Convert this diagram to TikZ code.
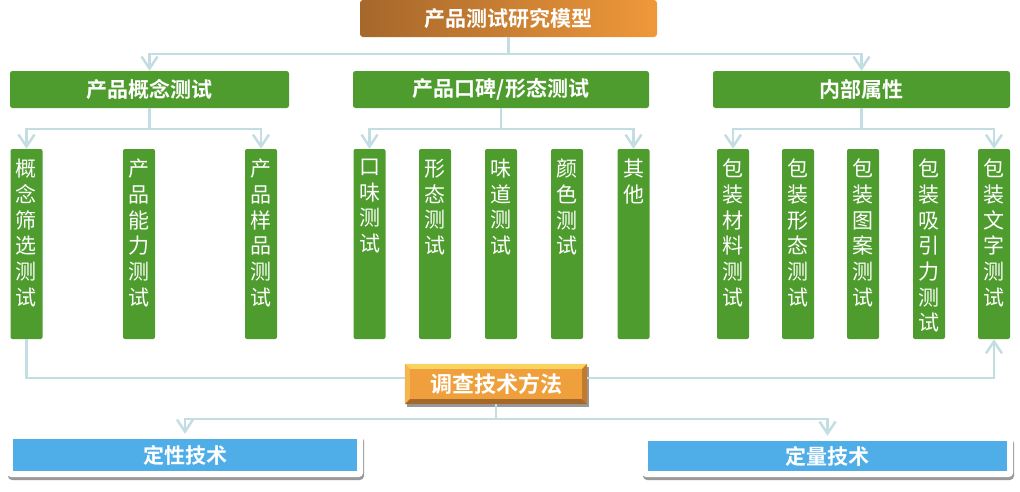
\documentclass[tikz,border=0pt]{standalone}
\usepackage{fontspec}
\setmainfont{Noto Sans CJK SC}[BoldFont={Noto Sans CJK SC Bold}]
\usetikzlibrary{arrows.meta,shadows,calc}
\definecolor{grn}{HTML}{4E9C2D}
\definecolor{lineC}{HTML}{C3DEE3}
\definecolor{blu}{HTML}{4FADE8}
\definecolor{topA}{HTML}{A5672B}
\definecolor{topB}{HTML}{EF983A}
\definecolor{orgM}{HTML}{EFA03C}
\definecolor{orgT}{HTML}{F9D260}
\definecolor{orgL}{HTML}{F4B650}
\definecolor{orgR}{HTML}{C27A2C}
\definecolor{orgB}{HTML}{A4682A}
\newcommand\vcol[3]{\node[vbox] (#1) at (#2,244) {};
  \node[vtxt] (#1t) at ([yshift=-10pt]#1.north) {#3};}
\begin{document}
\begin{tikzpicture}[x=1pt,y=-1pt,
  conn/.style={draw=lineC, line width=2.5pt},
  arr/.style={-{Straight Barb[length=12pt,width=16pt]}},
  hdr/.style={fill=grn, rounded corners=2.5pt, minimum width=#1, minimum height=37pt,
    inner sep=0pt, text=white, font=\fontsize{21}{24}\selectfont\bfseries},
  vbox/.style={fill=grn, rounded corners=2pt, minimum width=32pt, minimum height=190pt, inner sep=0pt},
  vtxt/.style={text=white, align=center, inner sep=0pt, anchor=north,
    font=\fontsize{21}{25.7}\selectfont},
  frm/.style={fill=white, rounded corners=4pt, inner sep=0pt,
    drop shadow={shadow xshift=1pt, shadow yshift=-3pt, opacity=0.4, fill=black}},
  bluebox/.style={fill=blu, inner sep=0pt, text=white, font=\fontsize{21}{24}\selectfont\bfseries},
]
\useasboundingbox (0,0) rectangle (1020,491);

% top
\node[left color=topA, right color=topB,
  rounded corners=3pt, minimum width=297pt, minimum height=37pt, inner sep=0pt,
  text=white, font=\fontsize{21}{24}\selectfont\bfseries] (top) at (508.5,18.5) {产品测试研究模型};

% headers
\node[hdr=279pt] (h1) at (149.5,89.5) {产品概念测试};
\node[hdr=296pt] (h2) at (501,89.5) {产品口碑/形态测试};
\node[hdr=297pt] (h3) at (861.5,89.5) {内部属性};

% columns
\vcol{c1}{26.5}{概\\念\\筛\\选\\测\\试}
\vcol{c2}{139}{产\\品\\能\\力\\测\\试}
\vcol{c3}{261}{产\\品\\样\\品\\测\\试}
\vcol{m1}{369.5}{口\\味\\测\\试}
\vcol{m2}{435}{形\\态\\测\\试}
\vcol{m3}{501}{味\\道\\测\\试}
\vcol{m4}{567}{颜\\色\\测\\试}
\vcol{m5}{633.5}{其\\他}
\vcol{r1}{733}{包\\装\\材\\料\\测\\试}
\vcol{r2}{798}{包\\装\\形\\态\\测\\试}
\vcol{r3}{863}{包\\装\\图\\案\\测\\试}
\vcol{r4}{929}{包\\装\\吸\\引\\力\\测\\试}
\vcol{r5}{994}{包\\装\\文\\字\\测\\试}

% method box (bevel)
\node[fill=orgM, minimum width=182pt, minimum height=40pt, inner sep=0pt,
  drop shadow={shadow xshift=1.5pt, shadow yshift=-2.5pt, opacity=0.4, fill=black}] (meth) at (496,384) {};
\fill[orgT] (meth.north west) -- (meth.north east) -- ($(meth.north east)+(-5,5)$) -- ($(meth.north west)+(5,5)$) -- cycle;
\fill[orgL] (meth.north west) -- (meth.south west) -- ($(meth.south west)+(5,-5)$) -- ($(meth.north west)+(5,5)$) -- cycle;
\fill[orgR] (meth.north east) -- (meth.south east) -- ($(meth.south east)+(-5,-5)$) -- ($(meth.north east)+(-5,5)$) -- cycle;
\fill[orgB] (meth.south west) -- (meth.south east) -- ($(meth.south east)+(-5,-5)$) -- ($(meth.south west)+(5,-5)$) -- cycle;
\node[text=white, inner sep=0pt, font=\fontsize{22}{24}\selectfont\bfseries] (methT) at (meth.center) {调查技术方法};

% bottom boxes
\node[frm, minimum width=356pt, minimum height=43pt] (q1f) at (185,455.5) {};
\node[bluebox, minimum width=344pt, minimum height=32pt] (q1) at (185,455) {定性技术};
\node[frm, minimum width=371pt, minimum height=41pt] (q2f) at (827.5,456.5) {};
\node[bluebox, minimum width=359pt, minimum height=30pt] (q2) at (827.5,456) {定量技术};

% connectors
\coordinate (j0) at (508.5,54);
\draw[conn] (top.south) -- (j0);
\draw[conn,arr] (j0) -| (h1.north);
\draw[conn,arr] (j0) -| (h3.north);

\coordinate (j1) at (149.5,129);
\draw[conn] (h1.south) -- (j1);
\draw[conn,arr] (j1) -| (c1.north);
\draw[conn,arr] (j1) -| (c3.north);

\coordinate (j2) at (501,129);
\draw[conn] (h2.south) -- (j2);
\draw[conn,arr] (j2) -| (m1.north);
\draw[conn,arr] (j2) -| (m5.north);

\coordinate (j3) at (861.5,129);
\draw[conn] (h3.south) -- (j3);
\draw[conn,arr] (j3) -| (r1.north);
\draw[conn,arr] (j3) -| (r5.north);

\coordinate (mL) at (405,378);
\coordinate (mR) at (587,378);
\draw[conn] (c1.south) |- (mL);
\draw[conn,arr] (mR) -| (r5.south);

\coordinate (j4) at (496,419);
\draw[conn] (meth.south) -- (j4);
\draw[conn,arr] (j4) -| (q1f.north);
\draw[conn,arr] (j4) -| (q2f.north);
\end{tikzpicture}
\end{document}
